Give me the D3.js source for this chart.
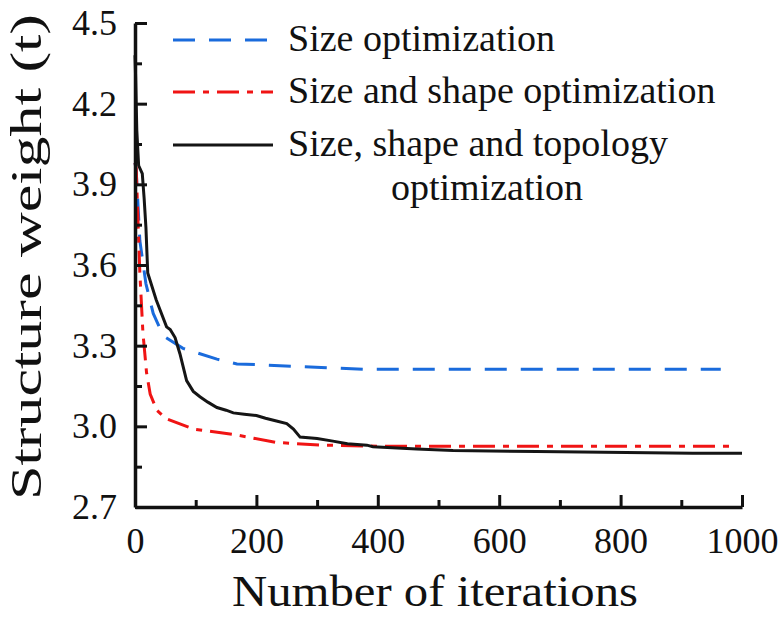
<!DOCTYPE html>
<meta charset="utf-8">
<head>
    <title>Structure weight vs iterations</title>
    <script type="text/javascript" src="https://cdn.jsdelivr.net/npm/d3@7/dist/d3.min.js"></script>
    <style>
        body { margin: 0; background: #fff; }
    </style>
</head>
<body>
    <div id="chart"></div>
    <script>
        // tick values
        const iterTicks = [0, 200, 400, 600, 800, 1000];
        const iterMinor = [100, 300, 500, 700, 900];
        const weightTicks = [2.7, 3.0, 3.3, 3.6, 3.9, 4.2, 4.5];
        const weightMinor = [2.85, 3.15, 3.45, 3.75, 4.05, 4.35];

        // size optimization
        const sizeIter   = [0, 2, 8, 18, 30, 46, 51, 79, 135, 168, 217, 272, 376, 500, 700, 965];
        const sizeWeight = [3.98, 3.95, 3.69, 3.53, 3.42, 3.34, 3.33, 3.29, 3.25, 3.232, 3.228, 3.222, 3.212, 3.212, 3.212, 3.212];

        // size and shape optimization
        const shapeIter   = [0, 2, 5, 8, 13, 19, 25, 36, 50, 96, 162, 233, 310, 400, 600, 800, 983];
        const shapeWeight = [3.98, 3.96, 3.76, 3.57, 3.35, 3.20, 3.12, 3.06, 3.03, 2.99, 2.97, 2.94, 2.93, 2.926, 2.926, 2.926, 2.926];

        // size, shape and topology optimization
        const topoIter   = [0, 1, 3, 6, 12, 15, 18, 21, 35, 52, 58, 66, 74, 85, 96, 107, 120, 135, 150, 162, 180, 200, 215, 233, 250, 261, 272, 300, 326, 350, 382, 392, 464, 524, 662, 919, 1000];
        const topoWeight = [4.38, 4.30, 4.10, 3.97, 3.94, 3.85, 3.74, 3.57, 3.47, 3.37, 3.36, 3.33, 3.27, 3.17, 3.13, 3.11, 3.09, 3.07, 3.06, 3.05, 3.045, 3.04, 3.03, 3.02, 3.01, 2.99, 2.96, 2.955, 2.945, 2.935, 2.93, 2.924, 2.916, 2.91, 2.906, 2.90, 2.90];

        const seriesNames = ["Size optimization", "Size and shape optimization", "Size, shape and topology"];

        const width = 783;
        const height = 621;
        const serif = "'Liberation Serif', 'Times New Roman', Times, serif";

        const svg = d3.select("#chart").append("svg")
            .attr("width", width)
            .attr("height", height)
            .attr("font-family", serif);

        const x = d3.scaleLinear().domain([0, 1000]).range([135, 742]);
        const y = d3.scaleLinear().domain([2.7, 4.5]).range([507, 23]);

        const line = d3.line()
            .x(d => x(d[0]))
            .y(d => y(d[1]));

        const series = [
            { name: seriesNames[0], pts: d3.zip(sizeIter, sizeWeight), color: "#1a6bdc", dash: "22,14" },
            { name: seriesNames[1], pts: d3.zip(shapeIter, shapeWeight), color: "#f01414", dash: "22,8,6,8" },
            { name: seriesNames[2], pts: d3.zip(topoIter, topoWeight), color: "#151515", dash: null }
        ];

        // lines
        svg.append("g")
            .selectAll("path")
            .data(series)
            .enter()
            .append("path")
            .attr("d", d => line(d.pts))
            .attr("fill", "none")
            .attr("stroke", d => d.color)
            .attr("stroke-width", 3)
            .attr("stroke-dasharray", d => d.dash);

        // minor ticks
        svg.append("g")
            .attr("transform", "translate(0,507)")
            .call(d3.axisBottom(x).tickValues(iterMinor).tickSize(-7).tickSizeOuter(0).tickFormat(""))
            .call(g => g.select(".domain").remove())
            .selectAll("line").attr("stroke", "#111").attr("stroke-width", 3);
        svg.append("g")
            .attr("transform", "translate(135,0)")
            .call(d3.axisLeft(y).tickValues(weightMinor).tickSize(-7).tickSizeOuter(0).tickFormat(""))
            .call(g => g.select(".domain").remove())
            .selectAll("line").attr("stroke", "#111").attr("stroke-width", 3);

        // x axis
        const xAxis = svg.append("g")
            .attr("transform", "translate(0,507)")
            .call(d3.axisBottom(x).tickValues(iterTicks).tickSize(-12).tickSizeOuter(0).tickPadding(20).tickFormat(d3.format("d")));
        xAxis.attr("font-family", serif).attr("font-size", 36);
        xAxis.select(".domain").attr("stroke", "#111").attr("stroke-width", 3.5);
        xAxis.selectAll("line").attr("stroke", "#111").attr("stroke-width", 3);
        xAxis.selectAll("text").attr("fill", "#111");

        // y axis
        const yAxis = svg.append("g")
            .attr("transform", "translate(135,0)")
            .call(d3.axisLeft(y).tickValues(weightTicks).tickSize(-12).tickSizeOuter(0).tickPadding(18).tickFormat(d3.format(".1f")));
        yAxis.attr("font-family", serif).attr("font-size", 36);
        yAxis.select(".domain").attr("stroke", "#111").attr("stroke-width", 3.5);
        yAxis.selectAll("line").attr("stroke", "#111").attr("stroke-width", 3);
        yAxis.selectAll("text").attr("fill", "#111");

        // axis titles
        svg.append("text")
            .attr("x", 232)
            .attr("y", 606)
            .attr("textLength", 406)
            .attr("lengthAdjust", "spacingAndGlyphs")
            .attr("font-size", 44)
            .attr("fill", "#111")
            .text("Number of iterations");

        svg.append("text")
            .attr("transform", "translate(41,500) rotate(-90)")
            .attr("textLength", 486)
            .attr("lengthAdjust", "spacingAndGlyphs")
            .attr("font-size", 44)
            .attr("fill", "#111")
            .text("Structure weight (t)");

        // legend
        const legendY = [40, 92, 145];
        const legend = svg.append("g");
        series.forEach(function (s, i) {
            legend.append("line")
                .attr("x1", 173).attr("x2", 273)
                .attr("y1", legendY[i]).attr("y2", legendY[i])
                .attr("stroke", s.color)
                .attr("stroke-width", 3)
                .attr("stroke-dasharray", s.dash);
            legend.append("text")
                .attr("x", 288)
                .attr("y", legendY[i] + 11)
                .attr("font-size", 38)
                .attr("fill", "#111")
                .text(s.name);
        });
        legend.append("text")
            .attr("x", 487)
            .attr("y", 200)
            .attr("text-anchor", "middle")
            .attr("font-size", 38)
            .attr("fill", "#111")
            .text("optimization");
    </script>
</body>
</html>
